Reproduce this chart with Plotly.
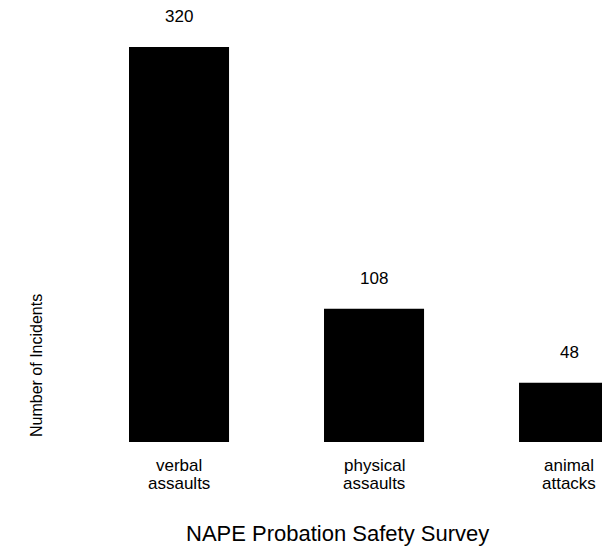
import plotly.graph_objects as go

# Survey results: incident counts by type
categories = ["verbal<br>assaults", "physical<br>assaults", "animal<br>attacks"]
incidents = [320, 108, 48]

FONT = "Liberation Sans, Arial, Helvetica, sans-serif"
positions = list(range(len(categories)))

fig = go.Figure(
    go.Bar(
        x=positions,
        y=incidents,
        width=0.513,
        marker=dict(color="black", line=dict(width=0)),
        hoverinfo="skip",
    )
)

annotations = []
# value labels above each bar
for xi, v in zip(positions, incidents):
    annotations.append(dict(
        x=xi, y=v, xref="x", yref="y", text=str(v), showarrow=False,
        yanchor="bottom", yshift=19, font=dict(family=FONT, size=17, color="black"),
    ))
# category labels under each bar, one line at a time for tight leading
for xi, c in zip(positions, categories):
    for k, line in enumerate(c.split("<br>")):
        annotations.append(dict(
            x=xi, y=0, xref="x", yref="y", text=line, showarrow=False,
            yanchor="top", yshift=-12 - 18 * k,
            font=dict(family=FONT, size=17, color="black"),
        ))
# axis caption and chart title
annotations.append(dict(
    x=36 / 602, y=(442 - 366) / 442, xref="paper", yref="paper",
    text="Number of Incidents", textangle=-90, showarrow=False,
    xanchor="center", yanchor="middle", font=dict(family=FONT, size=16, color="black"),
))
annotations.append(dict(
    x=337.5 / 602, y=(442 - 533) / 442, xref="paper", yref="paper",
    text="NAPE Probation Safety Survey", showarrow=False,
    xanchor="center", yanchor="middle", font=dict(family=FONT, size=22, color="black"),
))

fig.update_layout(
    width=602, height=550,
    margin=dict(l=0, r=0, t=0, b=108),
    paper_bgcolor="white", plot_bgcolor="white",
    showlegend=False,
    xaxis=dict(range=[-0.918, 2.169], visible=False, fixedrange=True),
    yaxis=dict(range=[0, 358.1], visible=False, fixedrange=True),
    annotations=annotations,
)

fig.write_html("out.html", config={"displayModeBar": False})
